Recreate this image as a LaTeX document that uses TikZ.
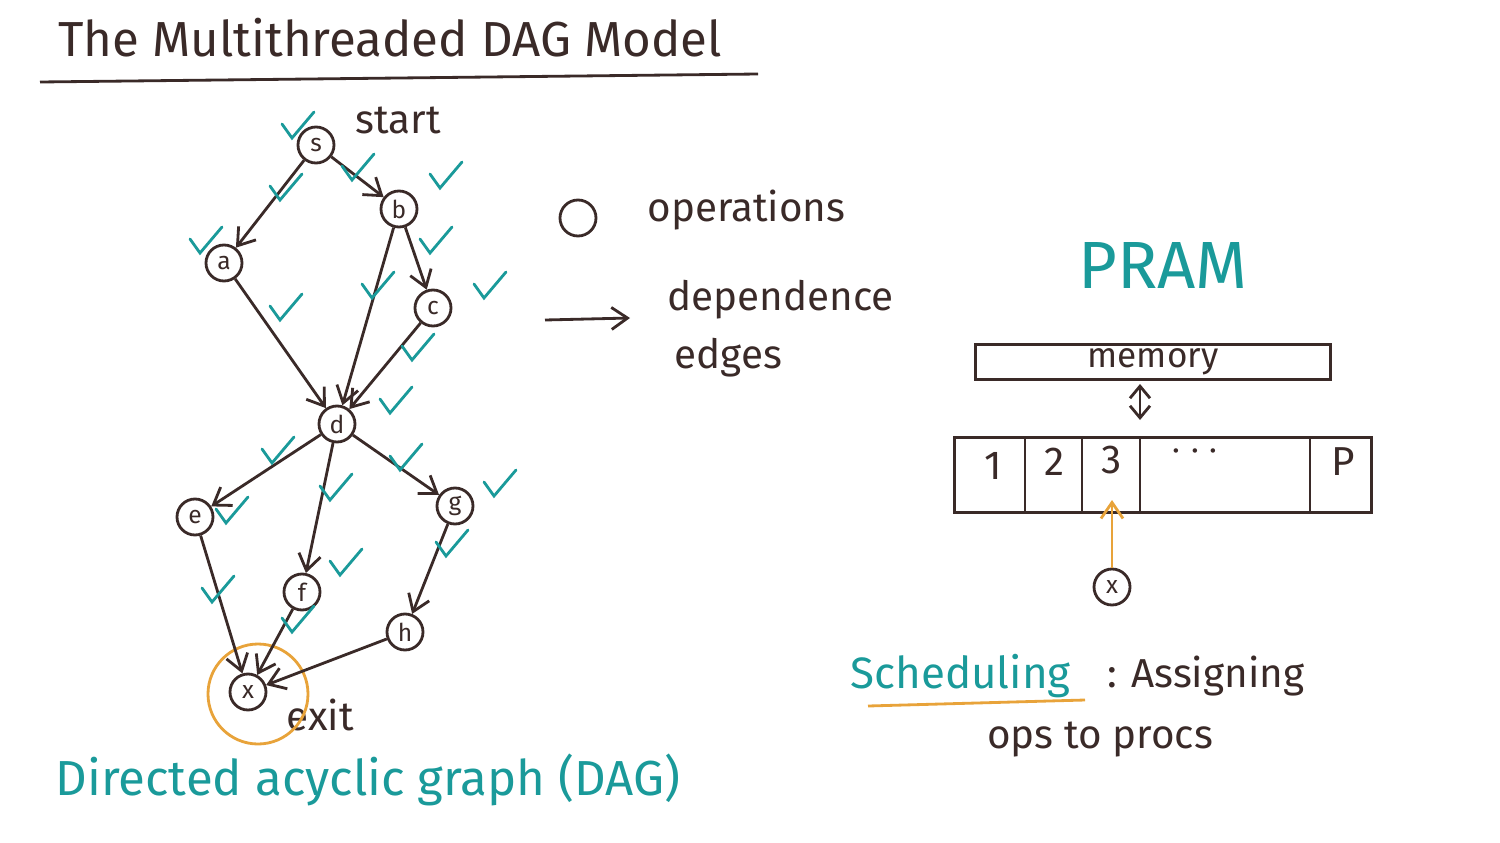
\documentclass[tikz,border=0pt]{standalone}
\usepackage{fontspec}
\setmainfont{Fira Sans}
\usetikzlibrary{arrows.meta}
\definecolor{ink}{HTML}{3A2A28}
\definecolor{teal}{HTML}{1A9A9A}
\definecolor{amber}{HTML}{E8A33A}
\tikzset{
  op/.style={circle, draw=ink, thick, minimum size=3.6mm, inner sep=0pt, text=ink, font=\fontsize{7}{7}\selectfont},
  dep/.style={-{Straight Barb[length=1.6mm, width=2.2mm]}, ink, thick},
  tick/.style={teal, thick, line cap=round},
  txt/.style={text=ink, font=\fontsize{11.5}{13}\selectfont}
}
\newcommand{\chk}[2]{\draw[tick] (#1-10,#2-6) -- (#1,#2+8) -- (#1+22,#2-18);}
\begin{document}
\begin{tikzpicture}[x=0.1mm,y=-0.1mm]
  \useasboundingbox (0,0) rectangle (1500,842);
  % title
  \node[text=ink, font=\fontsize{14}{16}\selectfont] (title) at (390,38) {The Multithreaded DAG Model};
  \draw[ink, thick] (40,82) -- (758,74);

  % the dag
  \node[op] (s) at (316,145) {s};
  \node[op] (b) at (399,209) {b};
  \node[op] (a) at (224,263) {a};
  \node[op] (c) at (433,308) {c};
  \node[op] (d) at (337,424) {d};
  \node[op] (e) at (195,517) {e};
  \node[op] (g) at (455,506) {g};
  \node[op] (f) at (302,592) {f};
  \node[op] (h) at (405,632) {h};
  \node[op] (x) at (248,692) {x};
  \node[txt] (start) at (398,120) {start};
  \node[txt] (exit) at (320,715) {exit};
  \draw[amber, thick] (258,694) circle (50);

  \draw[dep] (s) -- (a);
  \draw[dep] (s) -- (b);
  \draw[dep] (b) -- (c);
  \draw[dep] (b) -- (d);
  \draw[dep] (a) -- (d);
  \draw[dep] (c) -- (d);
  \draw[dep] (d) -- (e);
  \draw[dep] (d) -- (f);
  \draw[dep] (d) -- (g);
  \draw[dep] (e) -- (x);
  \draw[dep] (f) -- (x);
  \draw[dep] (g) -- (h);
  \draw[dep] (h) -- (x);

  % checks
  \chk{292}{130}\chk{352}{172}\chk{440}{180}\chk{280}{192}\chk{200}{245}
  \chk{430}{245}\chk{484}{290}\chk{280}{312}\chk{372}{290}\chk{412}{352}
  \chk{390}{405}\chk{272}{455}\chk{330}{492}\chk{400}{462}\chk{494}{488}
  \chk{226}{515}\chk{212}{594}\chk{340}{567}\chk{292}{624}\chk{446}{548}

  \node[text=teal, font=\fontsize{14}{16}\selectfont] (dag) at (368,780) {Directed acyclic graph (DAG)};

  % legend
  \node[circle, draw=ink, thick, minimum size=3.6mm] (opsym) at (578,218) {};
  \node[txt, anchor=west] (oplab) at (635,210) {operations};
  \coordinate (arrA) at (545,320);
  \coordinate (arrB) at (630,318);
  \draw[dep] (arrA) -- (arrB);
  \node[txt, anchor=west] (deplab) at (655,300) {dependence};
  \node[txt, anchor=west] (edgelab) at (662,358) {edges};

  % pram
  \node[text=teal, font=\fontsize{19}{22}\selectfont] (pram) at (1163,265) {PRAM};
  \node[draw=ink, thick, minimum width=35.5mm, minimum height=3.5mm, inner sep=0pt, text=ink, font=\fontsize{10}{11}\selectfont] (mem) at (1153,362) {memory};
  \node[draw=ink, thick, minimum width=41.7mm, minimum height=7.5mm, inner sep=0pt] (procs) at (1163,475) {};
  \foreach \px in {1025,1082,1140,1310}
    \draw[ink, thick] (\px,437) -- (\px,512);
  \node[txt] (p1) at (993,466) {1};
  \node[txt] (p2) at (1054,462) {2};
  \node[txt] (p3) at (1112,460) {3};
  \node[txt] (pd) at (1195,452) {$\cdots$};
  \node[txt] (pp) at (1343,462) {P};
  \coordinate (busT) at (1140,384);
  \coordinate (busB) at (1140,420);
  \draw[{Straight Barb[length=1.2mm, width=2mm]}-{Straight Barb[length=1.2mm, width=2mm]}, ink, thick] (busT) -- (busB);
  \node[op] (xp) at (1112,587) {x};
  \coordinate (p3in) at (1112,500);
  \draw[-{Straight Barb[length=1.6mm, width=2.2mm]}, amber, thick] (xp) -- (p3in);

  % scheduling
  \node[text=teal, font=\fontsize{12.5}{14}\selectfont, anchor=west] (sched) at (838,676) {Scheduling};
  \draw[amber, thick] (868,706) -- (1085,700);
  \node[txt, anchor=west] (assign) at (1095,676) {: Assigning};
  \node[txt] (opsto) at (1100,740) {ops to procs};
\end{tikzpicture}
\end{document}
